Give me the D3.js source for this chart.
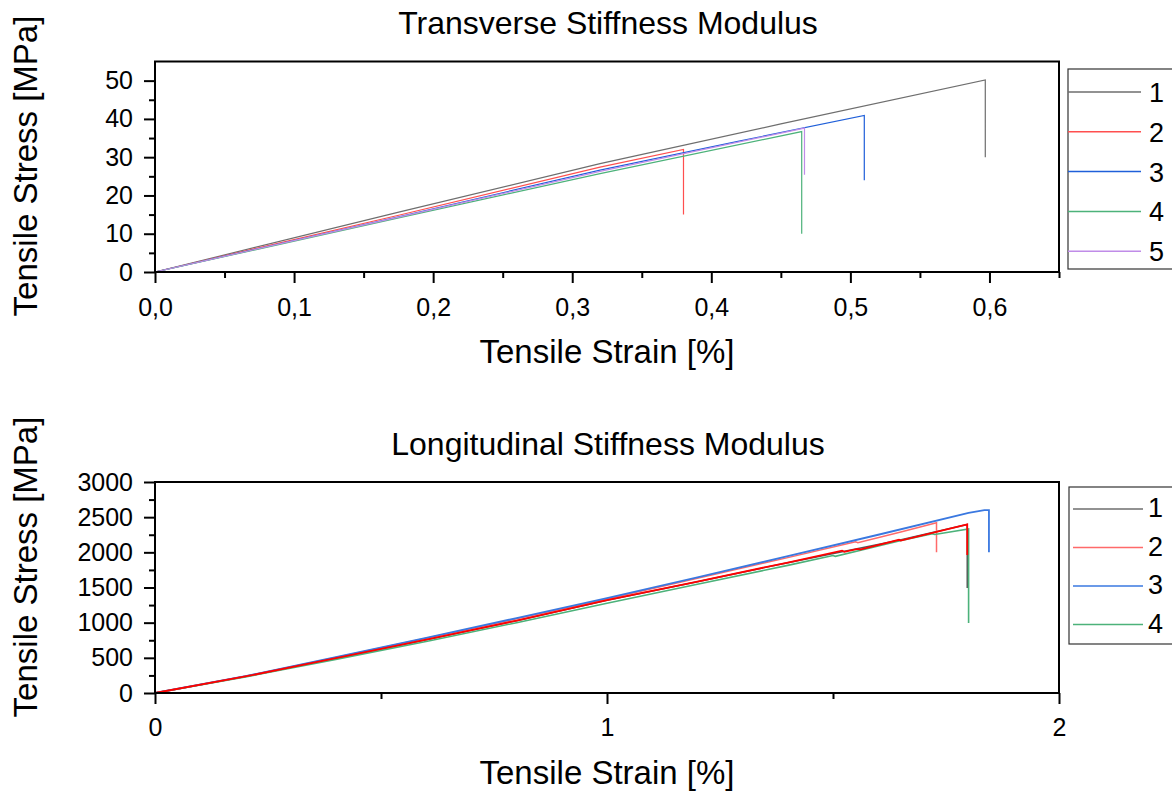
<!DOCTYPE html>
<html>
<head>
<meta charset="utf-8">
<script src="https://cdn.jsdelivr.net/npm/d3@7"></script>
<style>
body { margin: 0; background: #fff; }
text { font-family: "Liberation Sans", Arial, sans-serif; fill: #000; }
</style>
</head>
<body>
<div id="canvas"></div>
<script>
"use strict"

let svgWidth = 1172
let svgHeight = 793

/* data: transverse test, [strain %, stress MPa] */
let transNames = ["1", "2", "3", "4", "5"]
let transColors = ["#6e6e6e", "#ff4f4f", "#1f5fd9", "#4cb27a", "#c08ce8"]
let trans1 = [[0, 0], [0.176, 15.7], [0.32, 28.3], [0.45, 38.7], [0.597, 50.2], [0.597, 30]]
let trans2 = [[0, 0], [0.176, 14.9], [0.32, 27.4], [0.38, 32.0], [0.38, 15]]
let trans3 = [[0, 0], [0.176, 14.5], [0.32, 26.6], [0.42, 34.2], [0.51, 40.9], [0.51, 24]]
let trans4 = [[0, 0], [0.176, 14.2], [0.32, 25.7], [0.465, 36.7], [0.465, 10]]
let trans5 = [[0, 0], [0.176, 14.4], [0.32, 26.3], [0.467, 37.6], [0.467, 25.4]]

let transYTicks = [0, 10, 20, 30, 40, 50]
let transYMinor = [5, 15, 25, 35, 45]
let transXTicks = [0, 0.1, 0.2, 0.3, 0.4, 0.5, 0.6]
let transXMinor = [0.05, 0.15, 0.25, 0.35, 0.45, 0.55, 0.65]

/* data: longitudinal test */
let longNames = ["1", "2", "3", "4"]
let longColors = ["#6e6e6e", "#ff6a6a", "#3a78e0", "#4cb27a"]
let long1 = [[0, 0], [0.2, 233], [0.4, 493], [0.608, 766], [0.8, 1028], [1.0, 1318], [1.2, 1583],
             [1.4, 1853], [1.646, 2173], [1.797, 2395], [1.797, 1493]]
let long2 = [[0, 0], [0.2, 238], [0.4, 505], [0.6, 778], [0.8, 1055], [1.0, 1338], [1.2, 1630],
             [1.4, 1925], [1.55, 2150], [1.555, 2138], [1.65, 2290], [1.729, 2421], [1.729, 2000]]
let long3 = [[0, 0], [0.2, 240], [0.4, 510], [0.6, 785], [0.8, 1065], [1.0, 1350], [1.2, 1645],
             [1.4, 1945], [1.6, 2250], [1.8, 2560], [1.835, 2600], [1.845, 2600], [1.845, 2000]]
let long4 = [[0, 0], [0.2, 228], [0.4, 478], [0.608, 744], [0.8, 1000], [1.0, 1275], [1.2, 1545],
             [1.4, 1815], [1.5, 1955], [1.505, 1943], [1.646, 2161], [1.72, 2265], [1.725, 2253],
             [1.8, 2332], [1.8, 995]]
/* extra bright red curve, not in the legend */
let longExtra = [[0, 0], [0.2, 235], [0.4, 495], [0.608, 768], [0.8, 1030], [1.0, 1320], [1.2, 1585],
                 [1.4, 1855], [1.52, 2025], [1.525, 2008], [1.555, 2050], [1.56, 2038], [1.646, 2178],
                 [1.65, 2166], [1.797, 2398], [1.797, 1962]]

let longYTicks = [0, 500, 1000, 1500, 2000, 2500, 3000]
let longYMinor = [250, 750, 1250, 1750, 2250, 2750]
let longXTicks = [0, 1, 2]
let longXMinor = [0.5, 1.5]

let svg = d3.select("#canvas")
    .append("svg")
    .attr("width", svgWidth)
    .attr("height", svgHeight)

function drawPanel(p) {
    let x = d3.scaleLinear().domain(p.xDomain).range([155, 1059])
    let y = d3.scaleLinear().domain(p.yDomain).range([p.bottom, p.top])
    let g = svg.append("g")

    /* minor ticks */
    g.append("g")
       .attr("transform", "translate(0," + p.bottom + ")")
       .call(d3.axisBottom(x).tickValues(p.xMinor).tickSize(6).tickFormat(""))
    g.append("g")
       .attr("transform", "translate(155,0)")
       .call(d3.axisLeft(y).tickValues(p.yMinor).tickSize(6).tickFormat(""))

    /* major ticks */
    g.append("g")
       .attr("transform", "translate(0," + p.bottom + ")")
       .call(d3.axisBottom(x).tickValues(p.xTicks).tickSize(11).tickPadding(p.xPad).tickFormat(p.xFormat))
    g.append("g")
       .attr("transform", "translate(155,0)")
       .call(d3.axisLeft(y).tickValues(p.yTicks).tickSize(11).tickPadding(11).tickFormat(d3.format("d")))

    g.selectAll(".domain").remove()
    g.selectAll(".tick line").attr("stroke", "#000").attr("stroke-width", 2)
    g.selectAll(".tick text")
       .attr("font-size", "25px")
       .attr("font-family", "'Liberation Sans', Arial, sans-serif")
       .attr("fill", "#000")

    /* curves */
    let line = d3.line().x(d => x(d[0])).y(d => y(d[1]))
    p.series.forEach(function(s) {
        g.append("path")
           .attr("d", line(s.data))
           .attr("fill", "none")
           .attr("stroke", s.color)
           .attr("stroke-width", s.width)
    })

    /* frame */
    g.append("rect")
       .attr("x", 155)
       .attr("y", p.top)
       .attr("width", 1059 - 155)
       .attr("height", p.bottom - p.top)
       .attr("fill", "none")
       .attr("stroke", "#000")
       .attr("stroke-width", 2)

    /* titles */
    g.append("text")
       .attr("x", 608)
       .attr("y", p.titleY)
       .attr("text-anchor", "middle")
       .attr("font-size", "32px")
       .text(p.title)

    g.append("text")
       .attr("x", 607)
       .attr("y", p.xTitleY)
       .attr("text-anchor", "middle")
       .attr("font-size", "33px")
       .text("Tensile Strain [%]")

    g.append("text")
       .attr("transform", "translate(37," + p.yTitleY + ") rotate(-90)")
       .attr("text-anchor", "middle")
       .attr("font-size", "33px")
       .text("Tensile Stress [MPa]")

    /* legend */
    g.append("rect")
       .attr("x", p.legX)
       .attr("y", p.legTop)
       .attr("width", 140)
       .attr("height", p.legHeight)
       .attr("fill", "none")
       .attr("stroke", "#333")
       .attr("stroke-width", 1.2)

    p.names.forEach(function(name, i) {
        let ry = p.legRow0 + i * p.legStep
        g.append("line")
           .attr("x1", p.legLine[0])
           .attr("x2", p.legLine[1])
           .attr("y1", ry)
           .attr("y2", ry)
           .attr("stroke", p.colors[i])
           .attr("stroke-width", 1.5)
        g.append("text")
           .attr("x", p.legTextX)
           .attr("y", ry + p.legTextDy)
           .attr("font-size", "27px")
           .text(name)
    })
}

let commaFormat = d => d3.format(".1f")(d).replace(".", ",")

drawPanel({
    title: "Transverse Stiffness Modulus",
    titleY: 34,
    xTitleY: 363,
    yTitleY: 166,
    top: 61.5,
    bottom: 272,
    xDomain: [0, 0.65],
    yDomain: [0, 55],
    xTicks: transXTicks,
    xMinor: transXMinor,
    yTicks: transYTicks,
    yMinor: transYMinor,
    xFormat: commaFormat,
    xPad: 15,
    names: transNames,
    colors: transColors,
    series: [
        {data: trans1, color: transColors[0], width: 1.2},
        {data: trans2, color: transColors[1], width: 1.2},
        {data: trans3, color: transColors[2], width: 1.2},
        {data: trans4, color: transColors[3], width: 1.2},
        {data: trans5, color: transColors[4], width: 1.2}
    ],
    legX: 1068,
    legTop: 69,
    legHeight: 200,
    legRow0: 92,
    legStep: 39.8,
    legLine: [1068, 1141],
    legTextX: 1149,
    legTextDy: 10
})

drawPanel({
    title: "Longitudinal Stiffness Modulus",
    titleY: 455,
    xTitleY: 784,
    yTitleY: 567,
    top: 482,
    bottom: 693,
    xDomain: [0, 2],
    yDomain: [0, 3000],
    xTicks: longXTicks,
    xMinor: longXMinor,
    yTicks: longYTicks,
    yMinor: longYMinor,
    xFormat: d3.format("d"),
    xPad: 14,
    names: longNames,
    colors: longColors,
    series: [
        {data: long1, color: "#555555", width: 1.5},
        {data: long2, color: longColors[1], width: 1.5},
        {data: long3, color: longColors[2], width: 1.8},
        {data: long4, color: longColors[3], width: 1.6},
        {data: longExtra, color: "#ff0000", width: 1.8}
    ],
    legX: 1069,
    legTop: 487,
    legHeight: 157,
    legRow0: 509,
    legStep: 38.5,
    legLine: [1073, 1143],
    legTextX: 1148,
    legTextDy: 8
})
</script>
</body>
</html>
